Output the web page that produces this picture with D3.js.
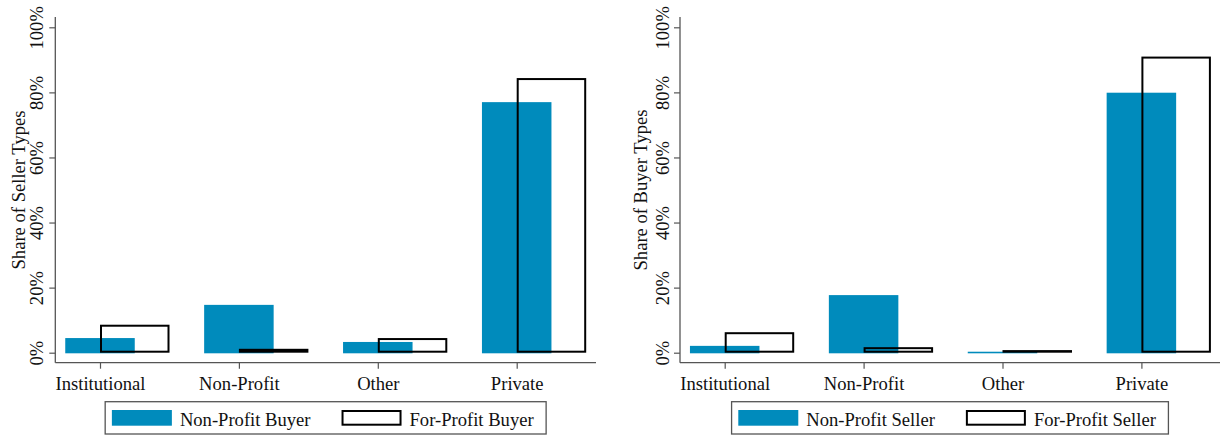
<!DOCTYPE html>
<html>
<head>
<meta charset="utf-8">
<script src="https://cdn.jsdelivr.net/npm/d3@7/dist/d3.min.js"></script>
<style>
  html, body { margin: 0; padding: 0; background: #fff; }
  svg { display: block; }
  text { font-family: "Liberation Serif", "Times New Roman", serif; fill: #111; }
</style>
</head>
<body>
<svg id="chart" width="1231" height="437" font-family="Liberation Serif, serif"></svg>
<script>
// ---- Data ----
const categories = ["Institutional", "Non-Profit", "Other", "Private"];
const yTicks = [0, 20, 40, 60, 80, 100];

// Left panel: share of seller types, by buyer type
const nonProfitBuyer = [4.5, 14.7, 3.3, 77.0];
const forProfitBuyer = [8.6, 1.2, 4.5, 84.4];

// Right panel: share of buyer types, by seller type
const nonProfitSeller = [2.1, 17.7, 0.3, 79.9];
const forProfitSeller = [6.3, 1.7, 0.5, 91.0];

const leftTitle = "Share of Seller Types";
const rightTitle = "Share of Buyer Types";
const leftLegend = ["Non-Profit Buyer", "For-Profit Buyer"];
const rightLegend = ["Non-Profit Seller", "For-Profit Seller"];

// ---- Style / layout ----
const BLUE = "#008BBC";
const AXIS = "#555";
const FONT = 18.6;
const SERIF = "Liberation Serif, Times New Roman, serif";
const axisTop = 17, yTopPx = 27.3, yZeroPx = 352.7, xAxisY = 362.7;
const barW = 69.5, outlineW = 2;

const svg = d3.select("#chart");

const panels = [
  { x0: 55.3, x1: 596, title: leftTitle, s1: nonProfitBuyer, s2: forProfitBuyer, legend: leftLegend, tickOff: 12.5, titleOff: 30 },
  { x0: 680,  x1: 1220, title: rightTitle, s1: nonProfitSeller, s2: forProfitSeller, legend: rightLegend, tickOff: 11, titleOff: 33 }
];

panels.forEach(p => {
  const g = svg.append("g").attr("font-family", SERIF);
  const y = d3.scaleLinear().domain([0, 100]).range([yZeroPx, yTopPx]);
  const x = d3.scalePoint().domain(categories).range([p.x0 + 44.7, p.x0 + 461.4]);

  // Bars: non-profit (filled, centered on tick)
  g.selectAll("rect.np").data(categories).join("rect")
    .attr("class", "np")
    .attr("x", d => x(d) - barW / 2)
    .attr("width", barW)
    .attr("y", (d, i) => y(p.s1[i]))
    .attr("height", (d, i) => Math.max(0.8, y(0) - y(p.s1[i]) + 0.6))
    .attr("fill", BLUE);

  // Bars: for-profit (outline, starting at tick)
  g.selectAll("rect.fp").data(categories).join("rect")
    .attr("class", "fp")
    .attr("x", d => x(d) + outlineW / 2)
    .attr("width", barW - outlineW)
    .attr("y", (d, i) => Math.min(y(p.s2[i]) + outlineW / 2, y(0) - outlineW / 2 - 0.6))
    .attr("height", (d, i) => Math.max(0.6, y(0) - y(p.s2[i]) - outlineW))
    .attr("fill", "none")
    .attr("stroke", "#000")
    .attr("stroke-width", outlineW);

  // Axis lines
  g.append("line").attr("x1", p.x0).attr("x2", p.x0).attr("y1", axisTop).attr("y2", xAxisY)
    .attr("stroke", AXIS).attr("stroke-width", 1.3);
  g.append("line").attr("x1", p.x0).attr("x2", p.x1).attr("y1", xAxisY).attr("y2", xAxisY)
    .attr("stroke", AXIS).attr("stroke-width", 1.3);

  // Y axis
  const ya = g.append("g").attr("transform", `translate(${p.x0},0)`)
    .call(d3.axisLeft(y).tickValues(yTicks).tickSize(6).tickSizeOuter(0).tickFormat(d => d + "%"));
  ya.attr("font-family", SERIF).attr("font-size", FONT);
  ya.select(".domain").remove();
  ya.selectAll(".tick line").attr("stroke", AXIS).attr("stroke-width", 1.2);
  ya.selectAll(".tick text")
    .attr("x", null).attr("dy", null)
    .attr("transform", `translate(${-p.tickOff},0) rotate(-90)`)
    .attr("text-anchor", "middle")
    .attr("fill", "#111");

  // X axis
  const xa = g.append("g").attr("transform", `translate(0,${xAxisY})`)
    .call(d3.axisBottom(x).tickSize(6).tickSizeOuter(0));
  xa.attr("font-family", SERIF).attr("font-size", FONT);
  xa.select(".domain").remove();
  xa.selectAll(".tick line").attr("stroke", AXIS).attr("stroke-width", 1.2);
  xa.selectAll(".tick text")
    .attr("y", 27.3).attr("dy", null)
    .attr("fill", "#111");

  // Y title
  g.append("text")
    .attr("transform", `translate(${p.x0 - p.titleOff},${(yTopPx + yZeroPx) / 2}) rotate(-90)`)
    .attr("text-anchor", "middle")
    .attr("font-size", FONT)
    .text(p.title);

  // Legend
  const lg = g.append("g").attr("font-size", FONT);
  const boxTop = 401.7, boxH = 32.3;
  const swW = 60, swH = 15.7, swTop = boxTop + 8.3, textBase = 425.5;
  const padL = 6.7, gapT = 8, gapItem = 31, padR = 12.5;
  const t1 = lg.append("text").attr("y", textBase).text(p.legend[0]);
  const t2 = lg.append("text").attr("y", textBase).text(p.legend[1]);
  const w1 = t1.node().getComputedTextLength();
  const w2 = t2.node().getComputedTextLength();
  const total = padL + swW + gapT + w1 + gapItem + swW + gapT + w2 + padR;
  const bx = (p.x0 + p.x1) / 2 - total / 2;
  lg.insert("rect", "text").attr("x", bx).attr("y", boxTop).attr("width", total).attr("height", boxH)
    .attr("fill", "#fff").attr("stroke", AXIS).attr("stroke-width", 1.3);
  let cx = bx + padL;
  lg.append("rect").attr("x", cx).attr("y", swTop).attr("width", swW).attr("height", swH).attr("fill", BLUE);
  cx += swW + gapT;
  t1.attr("x", cx);
  cx += w1 + gapItem;
  lg.append("rect").attr("x", cx + 1).attr("y", swTop + 1).attr("width", swW - 2).attr("height", swH - 2)
    .attr("fill", "none").attr("stroke", "#000").attr("stroke-width", 2);
  cx += swW + gapT;
  t2.attr("x", cx);
});
</script>
</body>
</html>
